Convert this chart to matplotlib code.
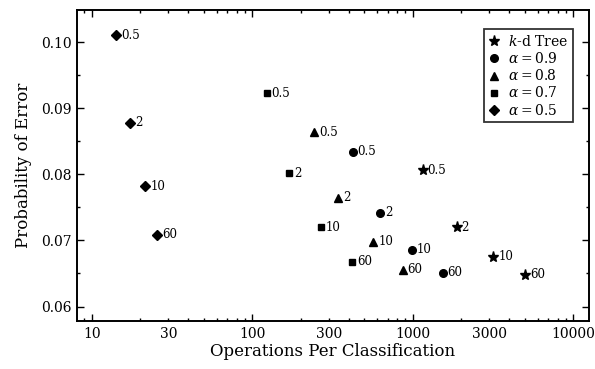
import matplotlib
matplotlib.use("Agg")
import matplotlib.pyplot as plt
from matplotlib.ticker import LogLocator, FuncFormatter, MultipleLocator

# point labels (same for every series)
point_labels = ["0.5", "2", "10", "60"]

series_names = [r"$k$-d Tree", r"$\alpha = 0.9$", r"$\alpha = 0.8$",
                r"$\alpha = 0.7$", r"$\alpha = 0.5$"]
series_markers = ["*", "o", "^", "s", "D"]
series_sizes = [8, 5.5, 5.5, 5, 5.5]

kd_ops = [1153, 1880, 3177, 5035]
kd_err = [0.0806, 0.0720, 0.0675, 0.0648]

a09_ops = [423, 625, 991, 1539]
a09_err = [0.0834, 0.0742, 0.0686, 0.0651]

a08_ops = [243, 343, 569, 867]
a08_err = [0.0864, 0.0765, 0.0698, 0.0656]

a07_ops = [123, 170, 267, 419]
a07_err = [0.0923, 0.0802, 0.0720, 0.0668]

a05_ops = [14.2, 17.3, 21.6, 25.6]
a05_err = [0.1011, 0.0878, 0.0782, 0.0709]

all_ops = [kd_ops, a09_ops, a08_ops, a07_ops, a05_ops]
all_err = [kd_err, a09_err, a08_err, a07_err, a05_err]

plt.rcParams['font.family'] = ['DejaVu Serif']
plt.rcParams['mathtext.fontset'] = 'dejavuserif'

fig = plt.figure(figsize=(5.95, 3.69), dpi=100)
ax = fig.add_axes([0.1294, 0.130, 0.8605, 0.843])

for ops, err, name, m, ms in zip(all_ops, all_err, series_names, series_markers, series_sizes):
    ax.plot(ops, err, linestyle='none', marker=m, markersize=ms, color='black',
            label=name)
    for xv, yv, lab in zip(ops, err, point_labels):
        ax.annotate(lab, (xv, yv), xytext=(3.5, 0), textcoords='offset points',
                    ha='left', va='center', fontsize=8.5, color='black')

ax.set_xscale('log')
ax.set_xlim(8.09, 12530)
ax.set_ylim(0.0578, 0.1049)

ax.xaxis.set_major_locator(LogLocator(base=10))
ax.xaxis.set_minor_locator(LogLocator(base=10, subs=range(2, 10)))
ax.xaxis.set_major_formatter(FuncFormatter(lambda v, p: "%d" % round(v)))
ax.xaxis.set_minor_formatter(FuncFormatter(
    lambda v, p: "%d" % round(v) if round(v) in (30, 300, 3000) else ""))
ax.set_yticks([0.06, 0.07, 0.08, 0.09, 0.10])
ax.yaxis.set_minor_locator(MultipleLocator(0.005))
ax.yaxis.set_major_formatter(FuncFormatter(lambda v, p: "%.2f" % v))

ax.tick_params(which='both', direction='in', top=True, right=True, labelsize=10,
               width=1)
ax.tick_params(which='major', length=5, pad=4)
ax.tick_params(which='minor', length=2.5, pad=4)
for s in ax.spines.values():
    s.set_linewidth(1.4)

ax.set_xlabel("Operations Per Classification", fontsize=12, labelpad=2)
ax.set_ylabel("Probability of Error", fontsize=12, labelpad=6)

leg = ax.legend(loc='upper right', fontsize=10, frameon=True, fancybox=False,
                edgecolor='black', handlelength=0.8, handletextpad=0.6,
                borderpad=0.35, labelspacing=0.15, numpoints=1,
                bbox_to_anchor=(0.982, 0.96))
leg.get_frame().set_linewidth(1.3)

fig.savefig("out.png", dpi=100, facecolor='white')
